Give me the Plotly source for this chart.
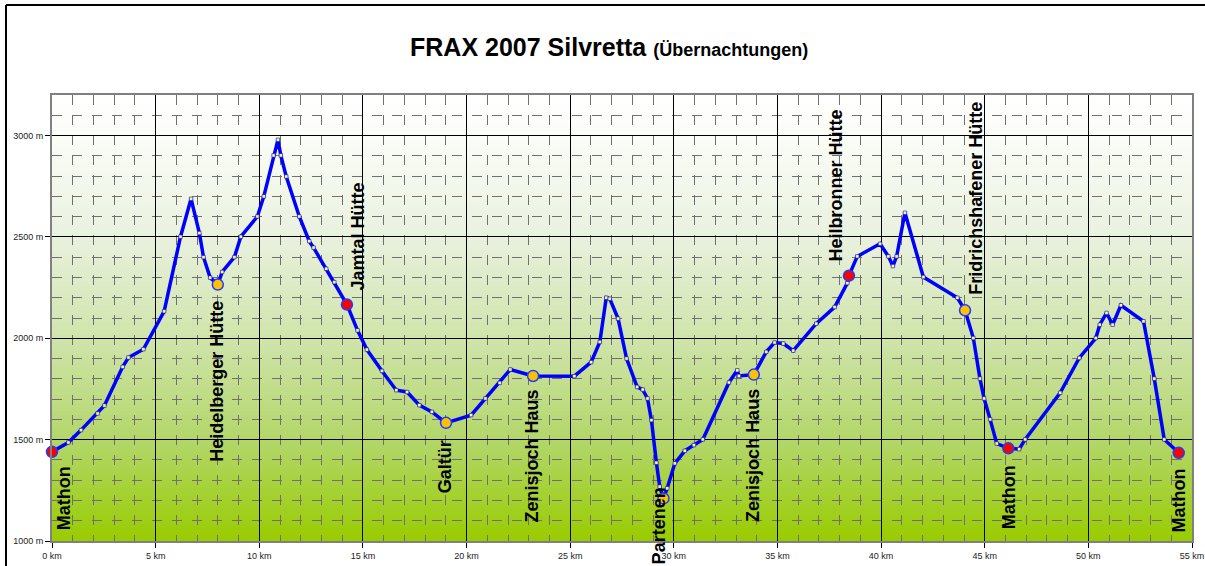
import plotly.graph_objects as go

# ---------------- data ----------------
route_km = [0.00, 0.79, 1.40, 2.20, 2.53, 3.41, 3.69, 4.41, 5.41, 6.20, 6.71, 7.11, 7.31, 7.63,
            8.00, 8.21, 8.80, 9.11, 9.91, 10.22, 10.69, 10.90, 11.04, 11.30, 11.93, 12.41, 12.62,
            13.23, 13.62, 14.23, 14.74, 15.19, 15.92, 16.61, 17.13, 17.72, 18.33, 19.01, 20.22,
            20.91, 21.60, 22.11, 23.21, 25.20, 26.01, 26.43, 26.74, 26.91, 27.31, 27.72, 28.23,
            28.50, 28.73, 28.92, 29.16, 29.32, 29.50, 29.68, 30.05, 30.53, 30.97, 31.40, 32.66,
            33.06, 33.14, 33.86, 34.46, 34.86, 35.28, 35.76, 36.87, 37.76, 38.37, 38.45, 38.85,
            39.95, 40.35, 40.57, 40.75, 41.15, 42.04, 43.68, 44.05, 44.45, 44.77, 44.97, 45.26,
            45.58, 46.14, 46.66, 46.95, 48.64, 49.56, 50.36, 50.55, 50.88, 51.17, 51.57, 52.66,
            53.18, 53.66, 54.36]
route_elev = [1440, 1486, 1547, 1629, 1668, 1859, 1905, 1946, 2133, 2501, 2688, 2519, 2400, 2299,
              2265, 2327, 2400, 2501, 2601, 2700, 2902, 2979, 2902, 2798, 2601, 2479, 2447,
              2343, 2277, 2166, 2039, 1944, 1839, 1744, 1735, 1670, 1637, 1583, 1621,
              1703, 1780, 1846, 1814, 1813, 1882, 1982, 2200, 2195, 2097, 1900, 1760,
              1747, 1703, 1596, 1386, 1268, 1210, 1260, 1383, 1445, 1473, 1501, 1782,
              1842, 1814, 1821, 1933, 1979, 1974, 1939, 2072, 2154, 2272, 2309, 2404,
              2466, 2404, 2356, 2404, 2619, 2302, 2200, 2138, 2001, 1801, 1703, 1600,
              1481, 1457, 1453, 1501, 1731, 1903, 2001, 2067, 2125, 2067, 2163, 2084,
              1801, 1501, 1435]

stop_names = ["Mathon", "Heidelberger Hütte", "Jamtal Hütte", "Galtür", "Zenisjoch Haus",
              "Partenen", "Zenisjoch Haus", "Heilbronner Hütte", "Fridrichshafener Hütte",
              "Mathon", "Mathon"]
stop_km = [0.00, 8.00, 14.23, 19.01, 23.21, 29.50, 33.86, 38.45, 44.05, 46.14, 54.36]
stop_elev = [1440, 2265, 2166, 1583, 1814, 1210, 1821, 2309, 2138, 1457, 1435]
stop_kind = ["A", "B", "A", "B", "B", "B", "B", "A", "B", "A", "A"]

x_ticks = [0, 5, 10, 15, 20, 25, 30, 35, 40, 45, 50, 55]
x_tick_labels = ["0 km", "5 km", "10 km", "15 km", "20 km", "25 km", "30 km", "35 km",
                 "40 km", "45 km", "50 km", "55 km"]
y_ticks = [1000, 1500, 2000, 2500, 3000]
y_tick_labels = ["1000 m", "1500 m", "2000 m", "2500 m", "3000 m"]

title_main = "FRAX 2007 Silvretta"
title_sub = "(Übernachtungen)"

# ---------------- style ----------------
W, H = 1205, 566
ML, MR, MT, MB = 52, 13, 95, 25
PW, PH = W - ML - MR, H - MT - MB
FONT = "Arial, 'Liberation Sans', Helvetica, sans-serif"
kind_color = {"A": "#ff0000", "B": "#ffc000"}
# label offsets: (xshift, yshift, yanchor)
label_pos = [(11.5, -13, "top"), (-1, -14, "top"), (11, 12, "bottom"), (-1, -16, "top"),
             (-1, -12, "top"), (-5, 13, "top"), (-1.5, -12.5, "top"), (-13, 12, "bottom"),
             (11, 13, "bottom"), (0, -14.5, "top"), (0, -14, "top")]


def px_x(p):
    return (p - ML) / PW


def px_y(p):
    return (H - MB - p) / PH


fig = go.Figure()

# route line with small markers
fig.add_trace(go.Scatter(
    x=route_km, y=route_elev, mode="lines+markers",
    line=dict(color="#0000ff", width=3.5),
    marker=dict(symbol="square", size=3.5, color="#ffff66", line=dict(color="#0000ff", width=0.6)),
    showlegend=False, hoverinfo="skip", cliponaxis=False))

# overnight stops
for kind in ["A", "B"]:
    xs = [k for k, t in zip(stop_km, stop_kind) if t == kind]
    ys = [e for e, t in zip(stop_elev, stop_kind) if t == kind]
    fig.add_trace(go.Scatter(
        x=xs, y=ys, mode="markers",
        marker=dict(symbol="circle", size=11, color=kind_color[kind],
                    line=dict(color="#1f3cff", width=1.5)),
        showlegend=False, hoverinfo="skip", cliponaxis=False))

# labels
annotations = []
for name, k, e, (xs, ys, ya) in zip(stop_names, stop_km, stop_elev, label_pos):
    annotations.append(dict(
        x=k, y=e, xref="x", yref="y", text="<b>%s</b>" % name, showarrow=False,
        textangle=-90, xanchor="center", yanchor=ya, xshift=xs, yshift=ys,
        font=dict(family=FONT, size=18, color="#000000")))

annotations.append(dict(
    x=px_x(609), y=px_y(47), xref="paper", yref="paper", showarrow=False,
    xanchor="center", yanchor="middle",
    text="<b>%s</b> <b><span style='font-size:18px'>%s</span></b>" % (title_main, title_sub),
    font=dict(family=FONT, size=25, color="#000000")))

# gradient background
stops = [(0.0, (255, 255, 255)), (0.09, (251, 253, 248)), (0.32, (233, 241, 222)),
         (0.55, (207, 228, 170)), (0.78, (178, 214, 104)), (1.0, (153, 204, 0))]


def grad(t):
    for (t0, c0), (t1, c1) in zip(stops[:-1], stops[1:]):
        if t0 <= t <= t1:
            f = (t - t0) / (t1 - t0)
            return "rgb(%d,%d,%d)" % tuple(round(a + (b - a) * f) for a, b in zip(c0, c1))
    return "rgb(153,204,0)"


shapes = []
N = 110
for i in range(N):
    y0 = i / N
    t = 1 - (i + 0.5) / N
    shapes.append(dict(type="rect", xref="paper", yref="paper", x0=0, x1=1, y0=y0, y1=1,
                       fillcolor=grad(t), line=dict(width=0), layer="below"))

# outer chart frame (left and top edges)
shapes.append(dict(type="line", xref="paper", yref="paper", x0=px_x(6), x1=px_x(6),
                   y0=px_y(5), y1=px_y(600), line=dict(color="#000000", width=2), layer="above"))
shapes.append(dict(type="line", xref="paper", yref="paper", x0=px_x(6), x1=px_x(1240),
                   y0=px_y(5), y1=px_y(5), line=dict(color="#000000", width=2), layer="above"))

fig.update_layout(
    width=W, height=H,
    margin=dict(l=ML, r=MR, t=MT, b=MB, pad=0),
    paper_bgcolor="#ffffff", plot_bgcolor="rgba(0,0,0,0)",
    showlegend=False, shapes=shapes, annotations=annotations,
    font=dict(family=FONT, size=9, color="#222222"),
)
fig.update_xaxes(
    range=[0, 55], tickmode="array", tickvals=x_ticks, ticktext=x_tick_labels,
    showgrid=True, gridcolor="#000000", gridwidth=1, zeroline=False,
    ticks="outside", ticklen=5, tickcolor="#000000", tickwidth=1,
    showline=True, mirror=True, linecolor="#808080", linewidth=2,
    tickfont=dict(family=FONT, size=9, color="#222222"),
    automargin=False,
    minor=dict(dtick=1, tick0=0, showgrid=True, gridcolor="#707070", gridwidth=1,
               griddash="10px,10px"),
)
fig.update_yaxes(
    range=[1000, 3200], tickmode="array", tickvals=y_ticks, ticktext=y_tick_labels,
    showgrid=True, gridcolor="#000000", gridwidth=1, zeroline=False,
    ticks="outside", ticklen=5, tickcolor="#000000", tickwidth=1,
    showline=True, mirror=True, linecolor="#808080", linewidth=2,
    tickfont=dict(family=FONT, size=9, color="#222222"),
    automargin=False,
    minor=dict(dtick=100, tick0=1000, showgrid=True, gridcolor="#707070", gridwidth=1,
               griddash="10px,10px"),
)

fig.write_html(
    "out.html",
    config={"displayModeBar": False},
    post_script="document.body.style.margin='0';document.body.style.overflow='hidden';",
)
